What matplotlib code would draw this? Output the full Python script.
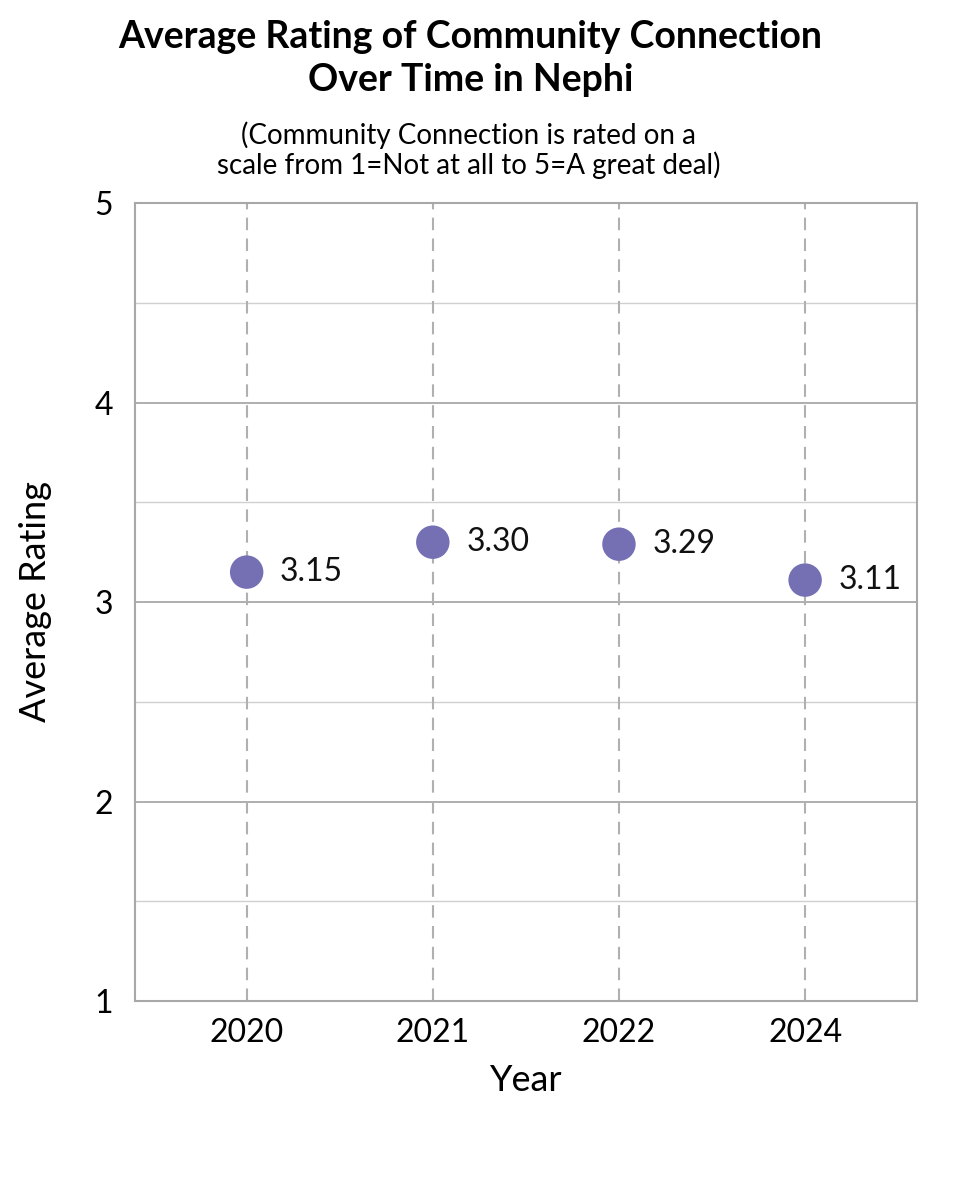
import numpy as np
import matplotlib
matplotlib.use("Agg")
import matplotlib.pyplot as plt

plt.rcParams["font.family"] = ["Lato", "DejaVu Sans"]

years = ["2020", "2021", "2022", "2024"]
ratings = [3.15, 3.30, 3.29, 3.11]

x = np.arange(len(years))

fig = plt.figure(figsize=(9.6, 12), dpi=100)
ax = fig.add_axes([0.1406, 0.1658, 0.8144, 0.665])

# grille
for yv in [1.5, 2.5, 3.5, 4.5]:
    ax.axhline(yv, color="#d0d0d0", linewidth=1, zorder=0)
for yv in [2, 3, 4]:
    ax.axhline(yv, color="#a8a8a8", linewidth=1.3, zorder=0)
for xv in x:
    ax.axvline(xv, color="#b0b0b0", linewidth=1.5, linestyle=(0, (6, 4)), zorder=1)

ax.scatter(x, ratings, s=580, color="#7570b3", edgecolors="none", zorder=3)

for xi, r in zip(x, ratings):
    ax.annotate(f"{r:.2f}", (xi, r), xytext=(24, 0), textcoords="offset points",
                va="center", ha="left", fontsize=23, color="#111111")

ax.set_xlim(-0.6, 3.6)
ax.set_ylim(1, 5)
ax.set_xticks(x)
ax.set_xticklabels(years)
ax.set_yticks([1, 2, 3, 4, 5])
ax.tick_params(axis="both", labelsize=23, length=0, pad=12)
ax.tick_params(axis="y", pad=16)

for s in ax.spines.values():
    s.set_color("#a8a8a8")
    s.set_linewidth(1.5)

ax.set_xlabel("Year", fontsize=26, labelpad=12)
ax.set_ylabel("Average Rating", fontsize=26, labelpad=30)

fig.text(0.49, 0.951, "Average Rating of Community Connection\nOver Time in Nephi",
         ha="center", va="center", fontsize=27, fontweight="bold", linespacing=1.32)
fig.text(0.488, 0.875, "(Community Connection is rated on a\nscale from 1=Not at all to 5=A great deal)",
         ha="center", va="center", fontsize=20, linespacing=1.12)

fig.savefig("out.png", dpi=100)
